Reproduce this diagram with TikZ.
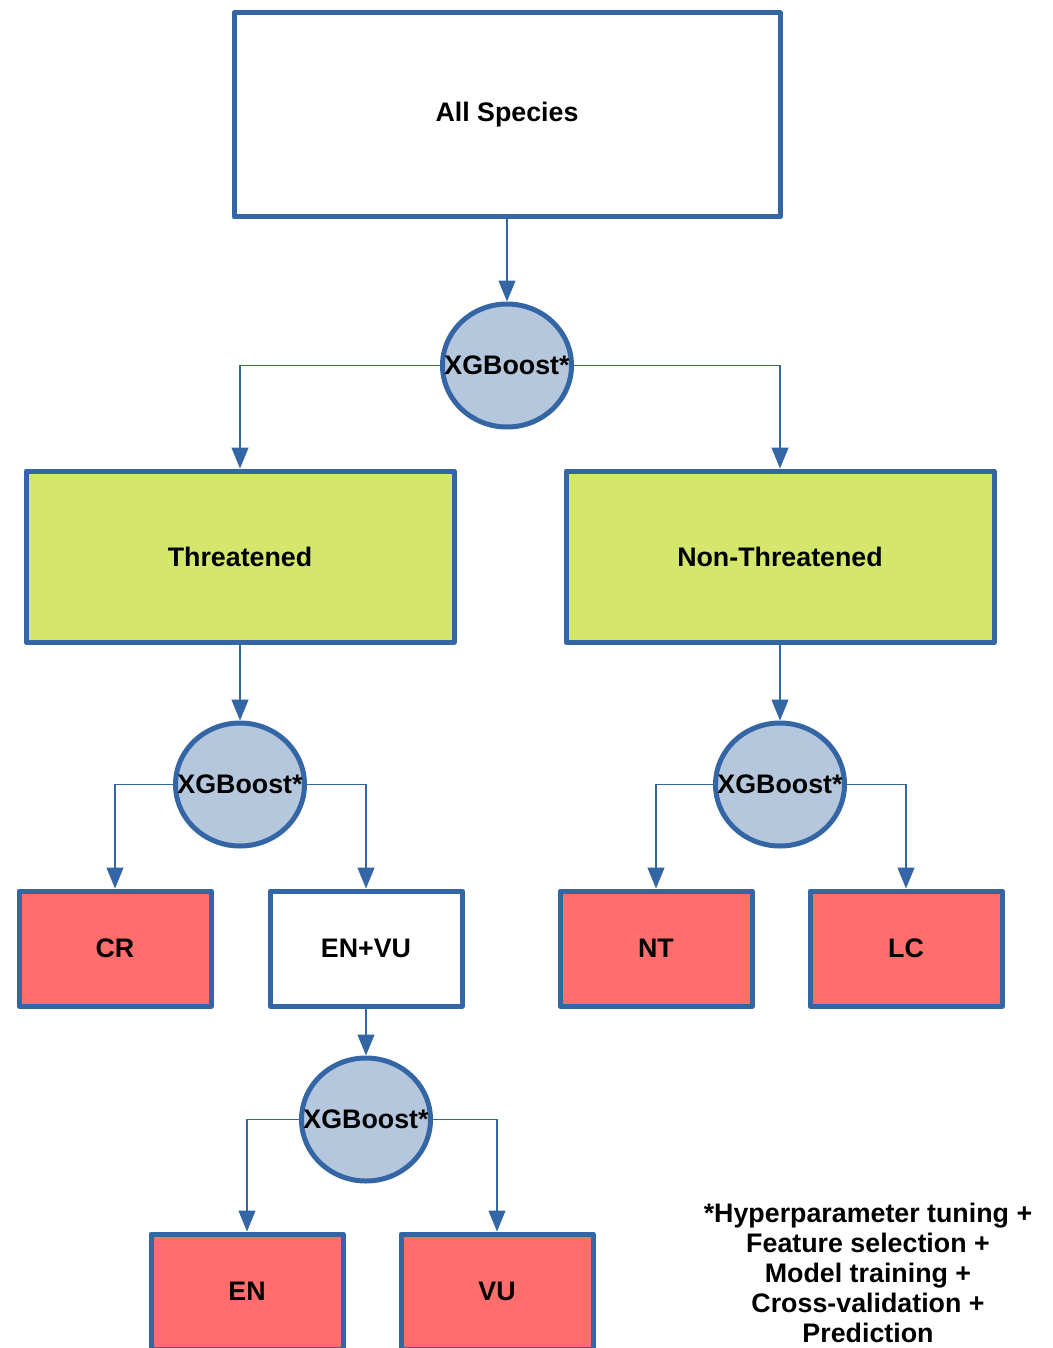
\documentclass[tikz,border=0pt]{standalone}
\usepackage{fontspec}
\setmainfont{Liberation Sans}
\usetikzlibrary{arrows.meta,positioning,shapes.geometric}
\definecolor{edgeblue}{HTML}{3465A4}
\definecolor{boostblue}{HTML}{B4C7DC}
\definecolor{groupgreen}{HTML}{D4E66C}
\definecolor{classred}{HTML}{FF6D6D}
\newcommand{\boostlabel}{\makebox[0pt]{XGBoost*}}

\begin{document}
\begin{tikzpicture}[
    x=1pt, y=-1pt,
    font=\fontsize{26.8}{30}\selectfont\bfseries,
    box/.style={
        draw=edgeblue,
        line width=5pt,
        line join=round,
        align=center,
        inner sep=0pt
    },
    groupbox/.style={box, fill=groupgreen, minimum width=428pt, minimum height=171pt},
    leaf/.style={box, fill=classred, minimum width=192pt, minimum height=115pt},
    boost/.style={ellipse, draw=edgeblue, line width=5pt, fill=boostblue,
        minimum width=129pt, minimum height=123pt, inner sep=0pt},
    arrow/.style={-{Triangle[length=21pt, width=17pt]}, line width=1.3pt, draw=edgeblue}
]
\useasboundingbox (0,0) rectangle (1052,1348);

\node[box, fill=white, minimum width=546pt, minimum height=204pt] (species) at (507,115) {All Species};
\node[boost, below=82pt of species] (boostall) {\boostlabel};

\node[groupbox, below=39pt of boostall, xshift=-267pt] (threat) {Threatened};
\node[groupbox, below=39pt of boostall, xshift=273pt] (nonthreat) {Non-Threatened};

\node[boost, below=76pt of threat] (boostthreat) {\boostlabel};
\node[boost, below=76pt of nonthreat] (boostnon) {\boostlabel};

\node[leaf, below=40pt of boostthreat, xshift=-125pt] (cr) {CR};
\node[box, fill=white, minimum width=192pt, minimum height=115pt,
      below=40pt of boostthreat, xshift=126pt] (envu) {EN+VU};
\node[leaf, below=40pt of boostnon, xshift=-124pt] (nt) {NT};
\node[leaf, below=40pt of boostnon, xshift=126pt] (lc) {LC};

\node[boost, below=47pt of envu] (boostenvu) {\boostlabel};
\node[leaf, below=48pt of boostenvu, xshift=-119pt] (en) {EN};
\node[leaf, below=48pt of boostenvu, xshift=131pt] (vu) {VU};

\node[align=center] (note) at (868,1273) {*Hyperparameter tuning +\\Feature selection +\\Model training +\\Cross-validation +\\Prediction};

\draw[arrow] (species) -- (boostall);
\draw[arrow] (boostall.west) -| (threat.north);
\draw[arrow] (boostall.east) -| (nonthreat.north);
\draw[arrow] (threat) -- (boostthreat);
\draw[arrow] (nonthreat) -- (boostnon);
\draw[arrow] (boostthreat.west) -| (cr.north);
\draw[arrow] (boostthreat.east) -| (envu.north);
\draw[arrow] (boostnon.west) -| (nt.north);
\draw[arrow] (boostnon.east) -| (lc.north);
\draw[arrow] (envu) -- (boostenvu);
\draw[arrow] (boostenvu.west) -| (en.north);
\draw[arrow] (boostenvu.east) -| (vu.north);

\end{tikzpicture}
\end{document}
